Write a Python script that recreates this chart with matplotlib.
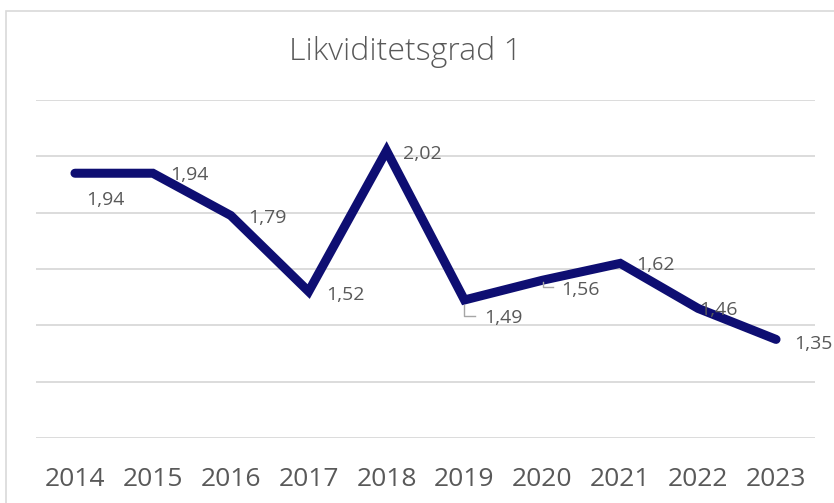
# Likviditetsgrad 1 - line chart with data labels, Excel look

import matplotlib.pyplot as plt
from matplotlib.patches import Rectangle
from matplotlib.transforms import ScaledTranslation

plt.rcParams['font.family'] = ['Open Sans', 'DejaVu Sans']

years = ['2014', '2015', '2016', '2017', '2018', '2019', '2020', '2021', '2022', '2023']
values = [1.94, 1.94, 1.79, 1.52, 2.02, 1.49, 1.56, 1.62, 1.46, 1.35]
labels = ['1,94', '1,94', '1,79', '1,52', '2,02', '1,49', '1,56', '1,62', '1,46', '1,35']

# label offsets in pixels (dx, dy) from the point, screen y up
offsets = [(30, -27), (37, -2), (37, -3), (37, -3), (36, -3),
           (39, -18), (38, -10), (35, -2), (20, -2), (37, -5)]
# leader lines: corner path in pixels from the point
leaders = {5: [(0, -5), (0, -16), (11, -16)],
           6: [(1, -2), (1, -7), (11, -7)]}

fig = plt.figure(figsize=(8.34, 5.03), dpi=100)
ax = fig.add_axes([36 / 834, 65 / 503, 779 / 834, 338 / 503])

x = list(range(len(years)))
ax.plot(x, values, color='#0e0e72', lw=6.5, solid_capstyle='round', solid_joinstyle='miter', zorder=3)

px = 72 / 100  # points per pixel
for i, (v, lab, (dx, dy)) in enumerate(zip(values, labels, offsets)):
    ax.annotate(lab, (i, v), xytext=(dx * px, dy * px), textcoords='offset points',
                ha='center', va='center', fontsize=14, color='#595959', zorder=4)
    if i in leaders:
        tr = fig.dpi_scale_trans + ScaledTranslation(i, v, ax.transData)
        lx = [p[0] / 100 for p in leaders[i]]
        ly = [p[1] / 100 for p in leaders[i]]
        ax.plot(lx, ly, color='#a6a6a6', lw=1, transform=tr, zorder=4)

ax.set_xlim(-0.5, len(years) - 0.5)
ax.set_ylim(1.0, 2.2)
ax.set_yticks([1.0, 1.2, 1.4, 1.6, 1.8, 2.0, 2.2])
ax.yaxis.grid(True, color='#d9d9d9', lw=1.3)
ax.set_axisbelow(True)
ax.tick_params(axis='y', left=False, labelleft=False)
ax.tick_params(axis='x', length=0, pad=21, labelsize=19, labelcolor='#595959')
ax.set_xticks(x)
ax.set_xticklabels(years)
for s in ax.spines.values():
    s.set_visible(False)

fig.text(405 / 834, 1 - 52 / 503, 'Likviditetsgrad 1', ha='center', va='center',
         fontsize=23, color='#595959', fontweight='light')

fig.patches.append(Rectangle((6 / 834, -0.1), 1.0, 1 - 11 / 503 + 0.1, transform=fig.transFigure,
                             fill=False, edgecolor='#d9d9d9', lw=1.2))

plt.savefig('out.png', dpi=100)
